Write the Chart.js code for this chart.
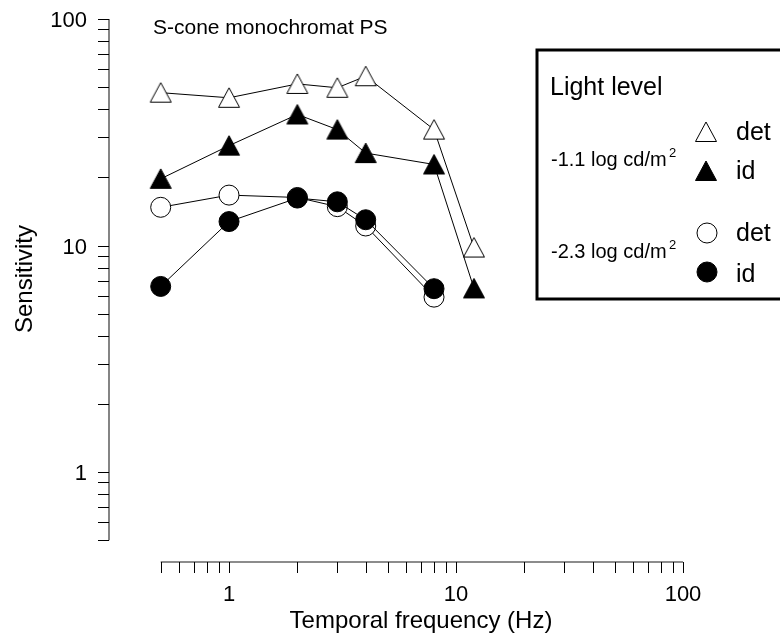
<!DOCTYPE html>
<html>
<head>
<meta charset="utf-8">
<script src="https://cdn.jsdelivr.net/npm/chart.js@4.4.1/dist/chart.umd.min.js"></script>
<style>
  html, body { margin: 0; padding: 0; background: #fff; }
  #wrap { width: 780px; height: 639px; }
</style>
</head>
<body>
<div id="wrap"><canvas id="sensChart" width="780" height="639"></canvas></div>
<script>
// --- data ---
const freqTri = [0.5, 1, 2, 3, 4, 8, 12];
const freqCirc = [0.5, 1, 2, 3, 4, 8];
const detHigh = [47.3, 44.9, 51.7, 49.7, 55.9, 32.5, 9.8];   // -1.1 log cd/m2, det
const idHigh = [19.7, 27.6, 37.9, 32.5, 25.6, 22.8, 6.47];   // -1.1 log cd/m2, id
const detLow = [14.75, 16.7, 16.3, 14.85, 12.2, 5.92];       // -2.3 log cd/m2, det
const idLow = [6.6, 12.76, 16.2, 15.6, 13.0, 6.45];          // -2.3 log cd/m2, id
const xTickLabels = [1, 10, 100];
const yTickLabels = [1, 10, 100];
const axisMin = 0.5;
const axisMax = 100;

const FONT = '"Liberation Sans", Arial, sans-serif';

// minor + major tick positions of a log axis
function logTicks(min, max) {
  const out = [];
  for (let d = -1; d <= 2; d++) {
    for (let m = 1; m < 10; m++) {
      const v = m * Math.pow(10, d);
      if (v >= min - 1e-9 && v <= max + 1e-9) out.push(v);
    }
  }
  return out;
}

// triangle marker, centred in its box like the original
function makeTri(fill) {
  const c = document.createElement('canvas');
  c.width = 24; c.height = 24;
  const g = c.getContext('2d');
  g.beginPath();
  g.moveTo(12, 2);
  g.lineTo(22.5, 21.5);
  g.lineTo(1.5, 21.5);
  g.closePath();
  g.fillStyle = fill;
  g.fill();
  g.lineWidth = 1;
  g.strokeStyle = '#000';
  g.stroke();
  return c;
}
const triOpen = makeTri('#fff');
const triFilled = makeTri('#000');

function pairs(xs, ys) {
  return xs.map((x, i) => ({ x: x, y: ys[i] }));
}

// axes are detached from the plot area, so draw them ourselves from the scales
const axesPlugin = {
  id: 'detachedAxes',
  afterDraw(chart) {
    const ctx = chart.ctx;
    const xs = chart.scales.x;
    const ys = chart.scales.y;
    const yAxisX = 109;
    const xAxisY = 562;
    const tickLen = 11;

    ctx.save();
    // y axis
    const yTop = ys.getPixelForValue(axisMax);
    const yBot = ys.getPixelForValue(axisMin);
    ctx.strokeStyle = '#666';
    ctx.lineWidth = 1.6;
    ctx.beginPath();
    ctx.moveTo(yAxisX, yTop);
    ctx.lineTo(yAxisX, yBot);
    ctx.stroke();
    ctx.strokeStyle = '#000';
    ctx.lineWidth = 1;
    logTicks(axisMin, axisMax).forEach(v => {
      const p = Math.round(ys.getPixelForValue(v)) + 0.5;
      ctx.beginPath();
      ctx.moveTo(yAxisX - tickLen, p);
      ctx.lineTo(yAxisX, p);
      ctx.stroke();
    });
    ctx.fillStyle = '#000';
    ctx.font = '22px ' + FONT;
    ctx.textAlign = 'right';
    ctx.textBaseline = 'alphabetic';
    yTickLabels.forEach(v => {
      ctx.fillText(String(v), 87, ys.getPixelForValue(v) + 8);
    });

    // x axis
    const xL = xs.getPixelForValue(axisMin);
    const xR = xs.getPixelForValue(axisMax);
    ctx.strokeStyle = '#666';
    ctx.lineWidth = 1.6;
    ctx.beginPath();
    ctx.moveTo(xL, xAxisY);
    ctx.lineTo(xR, xAxisY);
    ctx.stroke();
    ctx.strokeStyle = '#000';
    ctx.lineWidth = 1;
    logTicks(axisMin, axisMax).forEach(v => {
      const p = Math.round(xs.getPixelForValue(v)) + 0.5;
      ctx.beginPath();
      ctx.moveTo(p, xAxisY);
      ctx.lineTo(p, xAxisY + tickLen);
      ctx.stroke();
    });
    ctx.textAlign = 'center';
    xTickLabels.forEach(v => {
      ctx.fillText(String(v), xs.getPixelForValue(v), 601);
    });

    // axis titles
    ctx.font = '24px ' + FONT;
    ctx.fillText('Temporal frequency (Hz)', 421, 628);
    ctx.save();
    ctx.translate(32, 279);
    ctx.rotate(-Math.PI / 2);
    ctx.fillText('Sensitivity', 0, 0);
    ctx.restore();

    // panel title
    ctx.textAlign = 'left';
    ctx.font = '21px ' + FONT;
    ctx.fillText('S-cone monochromat PS', 153, 34);

    // legend box
    ctx.fillStyle = '#fff';
    ctx.fillRect(537, 50, 260, 249);
    ctx.strokeStyle = '#000';
    ctx.lineWidth = 3;
    ctx.strokeRect(537, 50, 260, 249);
    ctx.fillStyle = '#000';
    ctx.font = '25px ' + FONT;
    ctx.fillText('Light level', 550, 95);

    ctx.font = '20px ' + FONT;
    ctx.fillText('-1.1 log cd/m', 551, 166);
    ctx.fillText('-2.3 log cd/m', 551, 258);
    ctx.font = '13px ' + FONT;
    ctx.fillText('2', 669, 157);
    ctx.fillText('2', 669, 249);

    ctx.drawImage(triOpen, 706 - 12, 132 - 12);
    ctx.drawImage(triFilled, 706 - 12, 171 - 12);
    ctx.lineWidth = 1;
    ctx.beginPath();
    ctx.arc(707, 233, 10, 0, Math.PI * 2);
    ctx.fillStyle = '#fff';
    ctx.fill();
    ctx.stroke();
    ctx.beginPath();
    ctx.arc(707, 272, 10, 0, Math.PI * 2);
    ctx.fillStyle = '#000';
    ctx.fill();
    ctx.stroke();

    ctx.font = '25px ' + FONT;
    ctx.fillText('det', 736, 140);
    ctx.fillText('id', 736, 179);
    ctx.fillText('det', 736, 241);
    ctx.fillText('id', 736, 282);
    ctx.restore();
  }
};

const ctx = document.getElementById('sensChart').getContext('2d');

new Chart(ctx, {
  type: 'line',
  data: {
    datasets: [
      {
        label: 'id -2.3',
        data: pairs(freqCirc, idLow),
        order: 0,
        borderColor: '#000',
        borderWidth: 1,
        pointStyle: 'circle',
        pointRadius: 10,
        pointBorderWidth: 1,
        pointBackgroundColor: '#000',
        pointBorderColor: '#000',
        tension: 0,
        clip: false
      },
      {
        label: 'det -2.3',
        data: pairs(freqCirc, detLow),
        order: 1,
        borderColor: '#000',
        borderWidth: 1,
        pointStyle: 'circle',
        pointRadius: 10,
        pointBorderWidth: 1,
        pointBackgroundColor: '#fff',
        pointBorderColor: '#000',
        tension: 0,
        clip: false
      },
      {
        label: 'id -1.1',
        data: pairs(freqTri, idHigh),
        order: 2,
        borderColor: '#000',
        borderWidth: 1,
        pointStyle: triFilled,
        pointRadius: 11,
        tension: 0,
        clip: false
      },
      {
        label: 'det -1.1',
        data: pairs(freqTri, detHigh),
        order: 3,
        borderColor: '#000',
        borderWidth: 1,
        pointStyle: triOpen,
        pointRadius: 11,
        tension: 0,
        clip: false
      }
    ]
  },
  options: {
    responsive: false,
    animation: false,
    events: [],
    layout: {
      padding: { left: 160.7, right: 97, top: 19, bottom: 98.7 }
    },
    plugins: {
      legend: { display: false },
      tooltip: { enabled: false }
    },
    scales: {
      x: { type: 'logarithmic', min: axisMin, max: axisMax, display: false },
      y: { type: 'logarithmic', min: axisMin, max: axisMax, display: false }
    }
  },
  plugins: [axesPlugin]
});
</script>
</body>
</html>
